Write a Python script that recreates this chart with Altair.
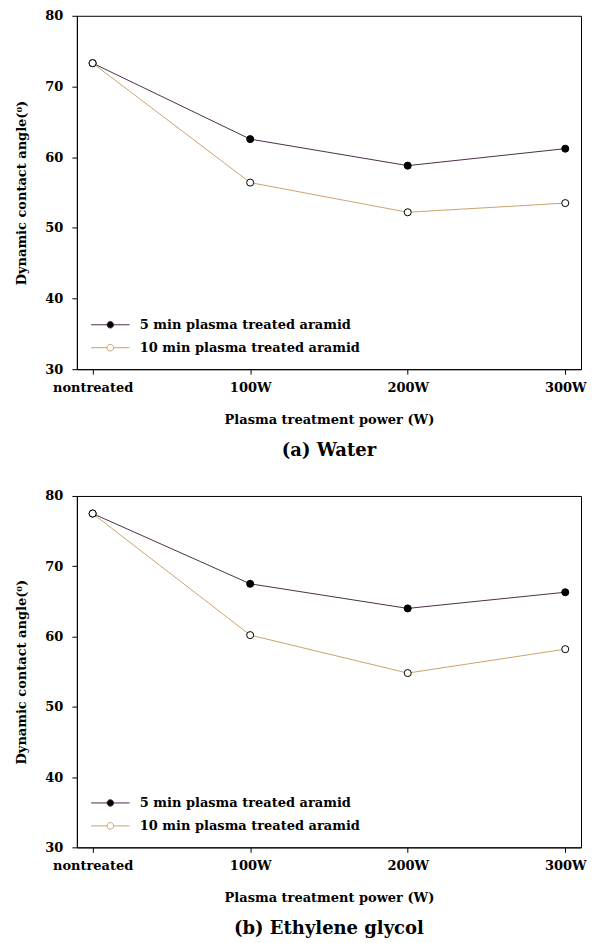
import altair as alt
import pandas as pd

categories = ["nontreated", "100W", "200W", "300W"]
series_names = ["5 min plasma treated aramid", "10 min plasma treated aramid"]
water_5min = [73.3, 62.55, 58.8, 61.2]
water_10min = [73.3, 56.4, 52.2, 53.5]
eg_5min = [77.5, 67.5, 64.0, 66.3]
eg_10min = [77.5, 60.2, 54.8, 58.2]
y_ticks = [30, 40, 50, 60, 70, 80]
captions = ["(a) Water", "(b) Ethylene glycol"]
x_title = "Plasma treatment power (W)"
y_title = "Dynamic contact angle(\u2070)"

line_colors = ["#4a3048", "#c9a46c"]
marker_fills = ["black", "white"]
FONT = "DejaVu Serif"

legend_symbol = "M-3.2,0H-0.55M0.55,0H3.2M0.55,0A0.55,0.55,0,1,1,-0.55,0A0.55,0.55,0,1,1,0.55,0Z"


def make_df(v5, v10):
    rows = []
    for c, a, b in zip(categories, v5, v10):
        rows.append({"power": c, "series": series_names[0], "value": a})
        rows.append({"power": c, "series": series_names[1], "value": b})
    return pd.DataFrame(rows)


def make_legend():
    return alt.Legend(
        title=None, orient="bottom-left", offset=14,
        symbolType=legend_symbol, symbolSize=144, symbolOffset=13,
        symbolStrokeWidth=1, labelOffset=23, rowPadding=9, labelLimit=0,
        labelFont=FONT, labelFontSize=13, labelFontWeight="bold",
        labelColor="black",
    )


def panel(df, caption, h):
    x = alt.X("power:N", sort=categories, scale=alt.Scale(type="point", padding=0.1),
              axis=alt.Axis(title=x_title, labelAngle=0, tickSize=5, labelPadding=7,
                            titlePadding=19))
    y = alt.Y("value:Q", scale=alt.Scale(domain=[30, 80], nice=False),
              axis=alt.Axis(title=y_title, values=y_ticks, tickSize=5, labelPadding=9,
                            titlePadding=16))
    lines = alt.Chart(df).mark_line(strokeWidth=1).encode(
        x=x, y=y,
        stroke=alt.Stroke("series:N", sort=series_names,
                          scale=alt.Scale(domain=series_names, range=line_colors),
                          legend=make_legend()),
    )
    pts = alt.Chart(df).mark_point(filled=True, size=50, stroke="black", strokeWidth=1,
                                   opacity=1).encode(
        x=x, y=y,
        fill=alt.Fill("series:N", sort=series_names,
                      scale=alt.Scale(domain=series_names, range=marker_fills),
                      legend=make_legend()),
    )
    return alt.layer(lines, pts).properties(
        width=505, height=h,
        title=alt.TitleParams(caption, orient="bottom", font=FONT, fontSize=18,
                              fontWeight="bold", color="black", offset=16),
    )


top = panel(make_df(water_5min, water_10min), captions[0], 354)
bottom = panel(make_df(eg_5min, eg_10min), captions[1], 352)

chart = alt.vconcat(top, bottom, spacing=28).resolve_scale(
    stroke="independent", fill="independent"
).resolve_legend(stroke="independent", fill="independent").configure(
    padding={"left": 7, "top": 0, "right": 0, "bottom": 0},
).configure_view(stroke="black", strokeWidth=1).configure_axis(
    grid=False, domainColor="black", tickColor="black", labelColor="black",
    titleColor="black", labelFont=FONT, titleFont=FONT, labelFontWeight="bold",
    titleFontWeight="bold", labelFontSize=13, titleFontSize=13,
)

chart.save("out.html", embed_options={"renderer": "svg", "actions": False})
